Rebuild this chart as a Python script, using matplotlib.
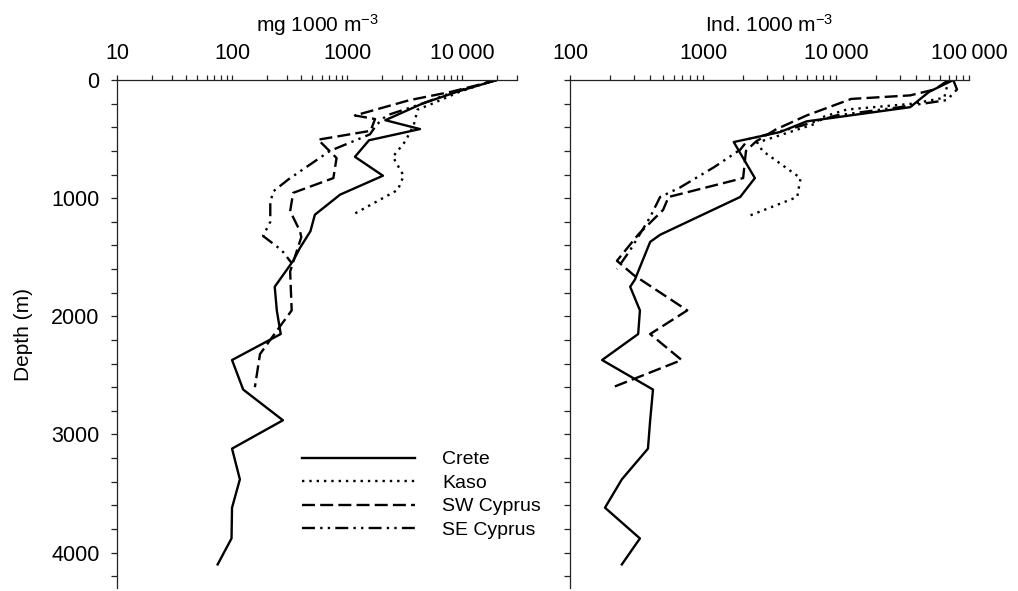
import matplotlib
matplotlib.use("Agg")
import matplotlib.pyplot as plt
from matplotlib.ticker import LogLocator, FuncFormatter, MultipleLocator, NullFormatter

plt.rcParams['font.family'] = ['Liberation Sans', 'DejaVu Sans']
plt.rcParams['mathtext.default'] = 'regular'
plt.rcParams['font.size'] = 15.5

# biomass, mg 1000 m-3  (left panel)
crete_mg_depth = [0, 100, 200, 340, 415, 510, 650, 810, 970, 1140, 1280, 1420, 1530, 1750, 1950,
                  2150, 2370, 2620, 2880, 3120, 3380, 3620, 3880, 4100]
crete_mg = [20000, 9000, 4500, 2150, 4300, 1550, 1170, 2050, 870, 525, 480, 390, 340, 235, 245,
            265, 100, 125, 277, 100, 117, 100, 99, 75]

kaso_mg_depth = [0, 100, 200, 250, 380, 520, 650, 810, 930, 1140]
kaso_mg = [19000, 9500, 5500, 4100, 3800, 3200, 2500, 3100, 2760, 1120]

sw_mg_depth = [0, 40, 100, 170, 300, 330, 430, 505, 660, 830, 955, 1110, 1280, 1330, 1620, 1950,
               2120, 2320, 2600]
sw_mg = [20000, 14000, 8000, 3500, 1170, 1750, 1600, 560, 810, 760, 340, 320, 390, 400, 320, 330,
         246, 175, 158]

se_mg_depth = [0, 100, 200, 300, 380, 460, 600, 840, 940, 1030, 1200, 1320, 1440, 1550]
se_mg = [20000, 8500, 4500, 2200, 1800, 1580, 710, 310, 230, 215, 215, 186, 270, 330]

# abundance, Ind. 1000 m-3  (right panel)
crete_ind_depth = [0, 100, 230, 350, 440, 525, 830, 990, 1310, 1370, 1690, 1750, 1950, 2150, 2370,
                   2620, 2880, 3120, 3380, 3620, 3880, 4100]
crete_ind = [76000, 50000, 36000, 6000, 3800, 1700, 2450, 1900, 475, 400, 307, 283, 335, 325, 174,
             420, 400, 385, 245, 183, 335, 245]

kaso_ind_depth = [0, 150, 200, 250, 320, 370, 530, 600, 830, 990, 1160]
kaso_ind = [70000, 65000, 38000, 12000, 7600, 7000, 2550, 2800, 5400, 5100, 2100]

sw_ind_depth = [0, 80, 130, 160, 300, 420, 520, 600, 830, 990, 1100, 1300, 1530, 1650, 1950, 2150,
                2370, 2600]
sw_ind = [70000, 55000, 36000, 13000, 6000, 3500, 2500, 2100, 2000, 550, 500, 330, 225, 300, 760, 400,
          690, 210]

se_ind_depth = [0, 80, 170, 230, 300, 400, 500, 590, 740, 910, 990, 1160, 1440, 1600]
se_ind = [76000, 81000, 68000, 30000, 10000, 5000, 2200, 1900, 1200, 670, 475, 400, 283, 225]

stations = ['Crete', 'Kaso', 'SW Cyprus', 'SE Cyprus']
lstyles = ['-', (0, (1, 2.1)), (0, (5.5, 2.2)), (0, (5.5, 2.2, 1, 2.2, 1, 2.2))]


def fmt(v, pos):
    if v >= 10000:
        return f"{int(v):,}".replace(',', '\u2009')
    return str(int(v))


def style(ax, xmin, xmax, label):
    ax.set_xscale('log')
    ax.set_xlim(xmin, xmax)
    ax.set_ylim(4300, 0)
    ax.xaxis.tick_top()
    ax.xaxis.set_label_position('top')
    ax.set_xlabel(label, labelpad=8, fontsize=15)
    ax.spines['right'].set_visible(False)
    ax.spines['bottom'].set_visible(False)
    for s in ['left', 'top']:
        ax.spines[s].set_linewidth(0.9)
        ax.spines[s].set_color('#222222')
    ax.xaxis.set_major_locator(LogLocator(base=10))
    ax.xaxis.set_minor_locator(LogLocator(base=10, subs=range(2, 10)))
    ax.xaxis.set_major_formatter(FuncFormatter(fmt))
    ax.xaxis.set_minor_formatter(NullFormatter())
    ax.yaxis.set_major_locator(MultipleLocator(1000))
    ax.yaxis.set_minor_locator(MultipleLocator(200))
    ax.tick_params(which='both', direction='out', width=0.9, color='#222222')
    ax.tick_params(axis='x', which='both', length=3.5, pad=8)
    ax.tick_params(axis='y', which='both', length=4.5, pad=8)


fig = plt.figure(figsize=(10.18, 5.91), dpi=100)
ax1 = fig.add_axes([0.1149, 0.005, 0.393, 0.8596])
ax2 = fig.add_axes([0.560, 0.005, 0.392, 0.8596])

left = [(crete_mg, crete_mg_depth), (kaso_mg, kaso_mg_depth), (sw_mg, sw_mg_depth), (se_mg, se_mg_depth)]
right = [(crete_ind, crete_ind_depth), (kaso_ind, kaso_ind_depth), (sw_ind, sw_ind_depth),
         (se_ind, se_ind_depth)]

for (x, d), name, ls in zip(left, stations, lstyles):
    ax1.plot(x, d, color='black', lw=1.7, ls=ls, label=name)
for (x, d), ls in zip(right, lstyles):
    ax2.plot(x, d, color='black', lw=1.7, ls=ls)

style(ax1, 10, 30000, 'mg 1000 m$^{-3}$')
style(ax2, 100, 100000, 'Ind. 1000 m$^{-3}$')
ax1.set_ylabel('Depth (m)', labelpad=13, fontsize=15)
ax2.yaxis.set_major_formatter(NullFormatter())

ax1.legend(loc='upper left', bbox_to_anchor=(0.4625, 0.27), frameon=False, fontsize=14,
           handlelength=5.8, handletextpad=1.4, labelspacing=0.3, borderpad=0, borderaxespad=0)

fig.savefig('out.png', dpi=100)
